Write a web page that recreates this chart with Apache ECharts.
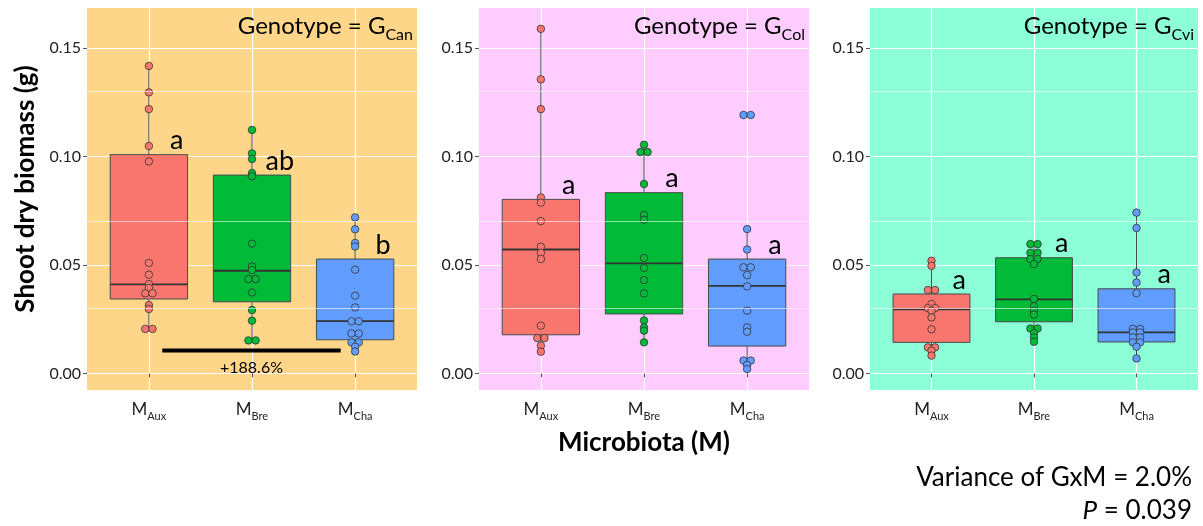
<!DOCTYPE html>
<html>
<head>
<meta charset="utf-8">
<script src="https://cdn.jsdelivr.net/npm/echarts@6/dist/echarts.min.js"></script>
<style>
  html, body { margin: 0; padding: 0; background: #ffffff; }
  #chart { width: 1203px; height: 526px; }
</style>
</head>
<body>
<div id="chart"></div>
<script>
// Categories
const genotypes = ['Can', 'Col', 'Cvi'];
const microbiota = ['Aux', 'Bre', 'Cha'];
const yTicks = [0, 0.05, 0.10, 0.15];
const yMinor = [0.025, 0.075, 0.125];

// Shoot dry biomass (g) of individual plants
const canAux = [0.1417, 0.1295, 0.1218, 0.1048, 0.0977, 0.0509, 0.0455, 0.0412, 0.0394, 0.0369, 0.0369, 0.0315, 0.0297, 0.0205, 0.0205];
const canBre = [0.1122, 0.1014, 0.0988, 0.0923, 0.0908, 0.0598, 0.0493, 0.0476, 0.0435, 0.0435, 0.0373, 0.0292, 0.0243, 0.0152, 0.0152];
const canCha = [0.0719, 0.0664, 0.0601, 0.0585, 0.0478, 0.0358, 0.0304, 0.0240, 0.0240, 0.0184, 0.0184, 0.0143, 0.0143, 0.0123, 0.0101];
const colAux = [0.1588, 0.1355, 0.1218, 0.0811, 0.0787, 0.0702, 0.0584, 0.0556, 0.0527, 0.0220, 0.0163, 0.0163, 0.0128, 0.0100];
const colBre = [0.1054, 0.1020, 0.1020, 0.0873, 0.0730, 0.0708, 0.0532, 0.0486, 0.0430, 0.0369, 0.0244, 0.0212, 0.0197, 0.0143];
const colCha = [0.1191, 0.1191, 0.0665, 0.0571, 0.0489, 0.0489, 0.0453, 0.0401, 0.0289, 0.0212, 0.0192, 0.0059, 0.0059, 0.0039, 0.0020];
const cviAux = [0.0519, 0.0496, 0.0384, 0.0384, 0.0320, 0.0301, 0.0301, 0.0289, 0.0258, 0.0203, 0.0120, 0.0120, 0.0105, 0.0082];
const cviBre = [0.0596, 0.0596, 0.0556, 0.0556, 0.0527, 0.0527, 0.0504, 0.0343, 0.0309, 0.0289, 0.0271, 0.0207, 0.0207, 0.0186, 0.0166, 0.0146];
const cviCha = [0.0741, 0.0670, 0.0465, 0.0419, 0.0370, 0.0205, 0.0205, 0.0189, 0.0189, 0.0166, 0.0166, 0.0143, 0.0143, 0.0123, 0.0069];

// Box statistics: [lower whisker, Q1, median, Q3, upper whisker]
const canBoxes = [[0.0201, 0.0343, 0.0410, 0.1008, 0.1417], [0.0152, 0.0330, 0.0473, 0.0914, 0.1122], [0.0097, 0.0155, 0.0241, 0.0527, 0.0719]];
const colBoxes = [[0.0100, 0.0178, 0.0571, 0.0802, 0.1588], [0.0143, 0.0274, 0.0507, 0.0833, 0.1054], [0.0020, 0.0126, 0.0403, 0.0527, 0.0665]];
const cviBoxes = [[0.0082, 0.0143, 0.0295, 0.0366, 0.0519], [0.0146, 0.0238, 0.0341, 0.0533, 0.0596], [0.0069, 0.0145, 0.0189, 0.0390, 0.0741]];

// Compact letter display per genotype
const canLetters = ['a', 'ab', 'b'];
const colLetters = ['a', 'a', 'a'];
const cviLetters = ['a', 'a', 'a'];

// Aux vs Cha contrast within G_Can
const contrastText = '+188.6%';
const contrastSpan = [1.13, 2.86];
const contrastLevel = 0.0105;

const varianceText = 'Variance of GxM = 2.0%';
const pValueText = '0.039';

const panels = [
  { points: [canAux, canBre, canCha], boxes: canBoxes, letters: canLetters, bg: '#FED68A' },
  { points: [colAux, colBre, colCha], boxes: colBoxes, letters: colLetters, bg: '#FFCCFF' },
  { points: [cviAux, cviBre, cviCha], boxes: cviBoxes, letters: cviLetters, bg: '#8DFFD8' }
];

const FONT = 'Lato, "Open Sans", sans-serif';
const fills = ['#F8766D', '#00BA38', '#619CFF'];
const DOT_STEP = 0.07;       // horizontal spacing of tied dots, in category units
const BOX_WIDTH = 0.75;

const gridLayout = [
  { left: 87, width: 330 },
  { left: 479, width: 330 },
  { left: 870, width: 328 }
];
const GRID_TOP = 8, GRID_HEIGHT = 382;

// tied values sit side by side, centred on the category
function spread(values, xCenter) {
  const counts = {}, seen = {};
  values.forEach(v => { counts[v] = (counts[v] || 0) + 1; });
  return values.map(v => {
    const k = seen[v] = (seen[v] === undefined ? 0 : seen[v] + 1);
    return [xCenter + (k - (counts[v] - 1) / 2) * DOT_STEP, v];
  });
}

function renderBox(params, api) {
  const x = api.value(0);
  const lo = api.coord([x, api.value(1)]);
  const q1 = api.coord([x, api.value(2)]);
  const md = api.coord([x, api.value(3)]);
  const q3 = api.coord([x, api.value(4)]);
  const hi = api.coord([x, api.value(5)]);
  const half = api.size([BOX_WIDTH, 0])[0] / 2;
  const col = fills[api.value(6)];
  return {
    type: 'group',
    children: [
      { type: 'line', shape: { x1: lo[0], y1: lo[1], x2: q1[0], y2: q1[1] }, style: { stroke: '#4a4a4a', lineWidth: 1 } },
      { type: 'line', shape: { x1: q3[0], y1: q3[1], x2: hi[0], y2: hi[1] }, style: { stroke: '#4a4a4a', lineWidth: 1 } },
      { type: 'rect', shape: { x: q3[0] - half, y: q3[1], width: half * 2, height: q1[1] - q3[1] }, style: { fill: col, stroke: '#4a4a4a', lineWidth: 1 } },
      { type: 'line', shape: { x1: md[0] - half, y1: md[1], x2: md[0] + half, y2: md[1] }, style: { stroke: '#333333', lineWidth: 1.8 } }
    ]
  };
}

function renderLetter(params, api) {
  const p = api.coord([api.value(0), api.value(1)]);
  return {
    type: 'text',
    x: p[0], y: p[1] - 14,
    style: {
      text: params.context.letters[params.dataIndex],
      font: '27px ' + FONT,
      fill: '#000000',
      textAlign: 'center',
      textVerticalAlign: 'middle'
    }
  };
}

function renderContrast(params, api) {
  const a = api.coord([api.value(0), api.value(2)]);
  const b = api.coord([api.value(1), api.value(2)]);
  return {
    type: 'group',
    children: [
      { type: 'line', shape: { x1: a[0], y1: a[1], x2: b[0], y2: b[1] }, style: { stroke: '#000000', lineWidth: 4 } },
      { type: 'text', x: (a[0] + b[0]) / 2, y: a[1] + 17, style: { text: contrastText, font: '16px ' + FONT, fill: '#000000', textAlign: 'center', textVerticalAlign: 'middle' } }
    ]
  };
}

const grid = [], xAxis = [], yAxis = [], series = [], title = [];

panels.forEach((panel, i) => {
  grid.push({
    left: gridLayout[i].left, width: gridLayout[i].width, top: GRID_TOP, height: GRID_HEIGHT,
    show: true, backgroundColor: panel.bg, borderWidth: 0
  });
  xAxis.push({
    gridIndex: i, type: 'value', min: 0.4, max: 3.6,
    name: i === 1 ? 'Microbiota (M)' : '',
    nameLocation: 'middle', nameGap: 40,
    nameTextStyle: { fontFamily: FONT, fontSize: 26, fontWeight: 'bold', color: '#000' },
    axisLine: { show: false },
    axisTick: { show: true, customValues: [1, 2, 3], length: 4, lineStyle: { color: '#555', width: 1 } },
    axisLabel: {
      customValues: [1, 2, 3], margin: 8,
      formatter: v => '{m|M}{s|' + microbiota[Math.round(v) - 1] + '}',
      rich: {
        m: { fontFamily: FONT, fontSize: 17, color: '#222', lineHeight: 24 },
        s: { fontFamily: FONT, fontSize: 11, color: '#222', verticalAlign: 'bottom' }
      }
    },
    splitLine: { show: true, lineStyle: { color: '#ffffff', width: 1.2 } }
  });
  yAxis.push({
    gridIndex: i, type: 'value', min: -0.00765, max: 0.1684,
    axisLine: { show: false },
    axisTick: { show: true, customValues: yTicks, length: 4, lineStyle: { color: '#555', width: 1 } },
    axisLabel: {
      customValues: yTicks, margin: 6, fontFamily: FONT, fontSize: 16, color: '#222',
      formatter: v => v.toFixed(2)
    },
    splitLine: { show: true, lineStyle: { color: '#ffffff', width: 1.2 } }
  });

  // minor grid lines
  series.push({
    type: 'line', xAxisIndex: i, yAxisIndex: i, data: [], z: 1, silent: true,
    markLine: {
      silent: true, symbol: 'none', label: { show: false },
      lineStyle: { color: '#ffffff', width: 0.6, type: 'solid' },
      data: yMinor.map(v => ({ yAxis: v }))
    }
  });

  series.push({
    type: 'custom', xAxisIndex: i, yAxisIndex: i, z: 3,
    renderItem: renderBox,
    data: panel.boxes.map((b, k) => [k + 1, b[0], b[1], b[2], b[3], b[4], k])
  });

  panel.points.forEach((vals, k) => {
    series.push({
      type: 'scatter', xAxisIndex: i, yAxisIndex: i, z: 4,
      symbol: 'circle', symbolSize: 7.5,
      itemStyle: { color: fills[k], borderColor: '#333333', borderWidth: 0.8, opacity: 1 },
      data: spread(vals, k + 1)
    });
  });

  series.push({
    type: 'custom', xAxisIndex: i, yAxisIndex: i, z: 5,
    renderItem: (params, api) => {
      params.context.letters = panel.letters;
      return renderLetter(params, api);
    },
    data: panel.boxes.map((b, k) => [k + 1.27, b[3]])
  });

  title.push({
    text: '{g|Genotype = G}{s|' + genotypes[i] + '}',
    right: 1203 - (gridLayout[i].left + gridLayout[i].width) + 4,
    top: 9,
    padding: 0,
    textStyle: {
      fontWeight: 'normal',
      rich: {
        g: { fontFamily: FONT, fontSize: 24, fontWeight: 'normal', color: '#000', lineHeight: 34 },
        s: { fontFamily: FONT, fontSize: 16, fontWeight: 'normal', color: '#000', lineHeight: 18, verticalAlign: 'bottom' }
      }
    }
  });
});

series.push({
  type: 'custom', xAxisIndex: 0, yAxisIndex: 0, z: 5,
  renderItem: renderContrast,
  data: [[contrastSpan[0], contrastSpan[1], contrastLevel]]
});

const option = {
  animation: false,
  backgroundColor: '#ffffff',
  title: title,
  grid: grid,
  xAxis: xAxis,
  yAxis: yAxis,
  series: series,
  graphic: [
    {
      type: 'text', x: 26, y: 189, rotation: Math.PI / 2,
      style: { text: 'Shoot dry biomass (g)', font: 'bold 26px ' + FONT, fill: '#000', textAlign: 'center', textVerticalAlign: 'middle' }
    },
    {
      type: 'text', x: 1192, y: 478,
      style: { text: varianceText, font: '26px ' + FONT, fill: '#000', textAlign: 'right', textVerticalAlign: 'middle' }
    },
    {
      type: 'text', x: 1192, y: 511,
      style: {
        text: '{i|P}{n| = ' + pValueText + '}',
        textAlign: 'right', textVerticalAlign: 'middle',
        rich: {
          i: { fontFamily: FONT, fontSize: 26, fontStyle: 'italic', fill: '#000' },
          n: { fontFamily: FONT, fontSize: 26, fill: '#000' }
        }
      }
    }
  ]
};

const chart = echarts.init(document.getElementById('chart'), null, { renderer: 'canvas' });
chart.setOption(option);
</script>
</body>
</html>
